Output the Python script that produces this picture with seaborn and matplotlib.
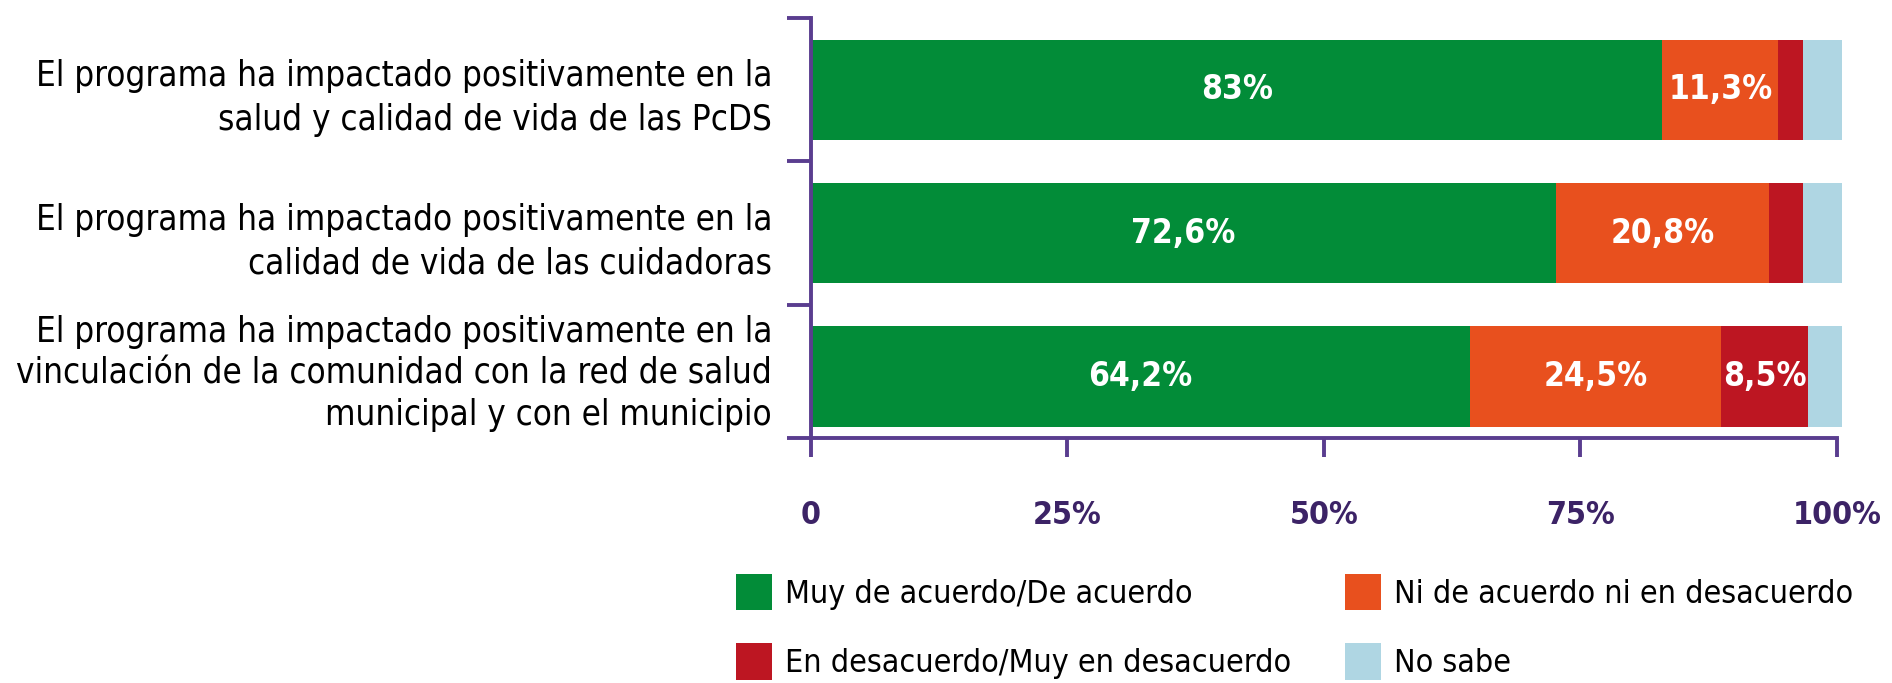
import matplotlib
matplotlib.use("Agg")
import matplotlib.pyplot as plt
from matplotlib import font_manager
from matplotlib.patches import Patch
from matplotlib.ticker import FixedLocator
from matplotlib.transforms import ScaledTranslation
import numpy as np
import seaborn as sns

# Data
categories = [
    "El programa ha impactado positivamente en la\nsalud y calidad de vida de las PcDS",
    "El programa ha impactado positivamente en la\ncalidad de vida de las cuidadoras",
    "El programa ha impactado positivamente en la\nvinculación de la comunidad con la red de salud\nmunicipal y con el municipio",
]
series_names = [
    "Muy de acuerdo/De acuerdo",
    "Ni de acuerdo ni en desacuerdo",
    "En desacuerdo/Muy en desacuerdo",
    "No sabe",
]
de_acuerdo = [83.0, 72.6, 64.2]
ni_ni = [11.3, 20.8, 24.5]
desacuerdo = [2.4, 3.3, 8.5]
no_sabe = [3.8, 3.8, 3.3]
bar_labels = [
    ["83%", "72,6%", "64,2%"],
    ["11,3%", "20,8%", "24,5%"],
    ["", "", "8,5%"],
    ["", "", ""],
]
xtick_values = [0, 25, 50, 75, 100]
xtick_labels = ["0", "25%", "50%", "75%", "100%"]

colors = ["#028c38", "#e8501e", "#bd1622", "#afd6e3"]
purple = "#5a3d8f"
dark_purple = "#3c2366"


def main():
    sns.set_theme(style="white")
    names = {f.name for f in font_manager.fontManager.ttflist}
    if "DejaVu Sans Condensed" in names:
        plt.rcParams["font.family"] = ["DejaVu Sans Condensed", "DejaVu Sans"]
    else:
        plt.rcParams["font.family"] = ["DejaVu Sans"]
        plt.rcParams["font.stretch"] = "condensed"
    plt.rcParams["text.color"] = "black"

    fig = plt.figure(figsize=(18.92, 6.83), dpi=100)
    ax = fig.add_axes([811 / 1892, 1 - 438 / 683, 1032 / 1892, 420 / 683])

    series = [de_acuerdo, ni_ni, desacuerdo, no_sabe]
    cum = np.cumsum(np.array(series), axis=0)

    # stacked bars: draw the full stack first, then overlay the shorter ones
    for i in range(len(series) - 1, -1, -1):
        sns.barplot(x=cum[i], y=categories, color=colors[i], width=0.7,
                    orient="h", saturation=1, errorbar=None, ax=ax,
                    linewidth=0, edgecolor="none")

    # value labels in the middle of each segment
    for i, vals in enumerate(series):
        for j, v in enumerate(vals):
            if bar_labels[i][j]:
                ax.text(cum[i][j] - v / 2, j, bar_labels[i][j], ha="center", va="center",
                        color="white", fontsize=24, fontweight="bold")

    ax.set_xlim(0, 100.6)
    ax.set_ylim(2.43, -0.5)
    ax.set_xlabel("")
    ax.set_ylabel("")

    ax.set_xticks(xtick_values, xtick_labels)
    ax.tick_params(axis="x", length=14, width=2.8, color=purple, pad=31,
                   labelsize=23, labelcolor=dark_purple, direction="out", bottom=True)
    for t in ax.get_xticklabels():
        t.set_fontweight("bold")

    ax.set_yticks(range(len(categories)), categories)
    ax.tick_params(axis="y", which="major", length=0, pad=28, labelsize=25, labelcolor="black")
    ax.yaxis.set_minor_locator(FixedLocator([-0.5, 0.5, 1.5, 2.43]))
    ax.tick_params(axis="y", which="minor", length=17, width=2.8, color=purple,
                   direction="out", left=True)
    ylabels = ax.get_yticklabels()
    for t in ylabels[:2]:
        t.set_linespacing(1.38)
    ylabels[2].set_linespacing(1.27)
    ylabels[2].set_transform(ylabels[2].get_transform()
                             + ScaledTranslation(0, 0.1, fig.dpi_scale_trans))

    for s in ["top", "right"]:
        ax.spines[s].set_visible(False)
    for s in ["left", "bottom"]:
        ax.spines[s].set_color(purple)
        ax.spines[s].set_linewidth(2.8)
    ax.spines["bottom"].set_bounds(0, 100)

    # legend in two columns placed under the axis
    handles = [Patch(facecolor=c, edgecolor="none") for c in colors]
    leg_kw = dict(loc="upper left", frameon=False, fontsize=23, borderpad=0,
                  borderaxespad=0, handlelength=1.12, handleheight=1.38,
                  handletextpad=0.42, labelspacing=1.02, labelcolor="black")
    fig.legend([handles[0], handles[2]], [series_names[0], series_names[2]],
               bbox_to_anchor=(736 / 1892, 1 - 574 / 683), **leg_kw)
    fig.legend([handles[1], handles[3]], [series_names[1], series_names[3]],
               bbox_to_anchor=(1345 / 1892, 1 - 574 / 683), **leg_kw)

    plt.savefig("out.png", dpi=100)


if __name__ == "__main__":
    main()
